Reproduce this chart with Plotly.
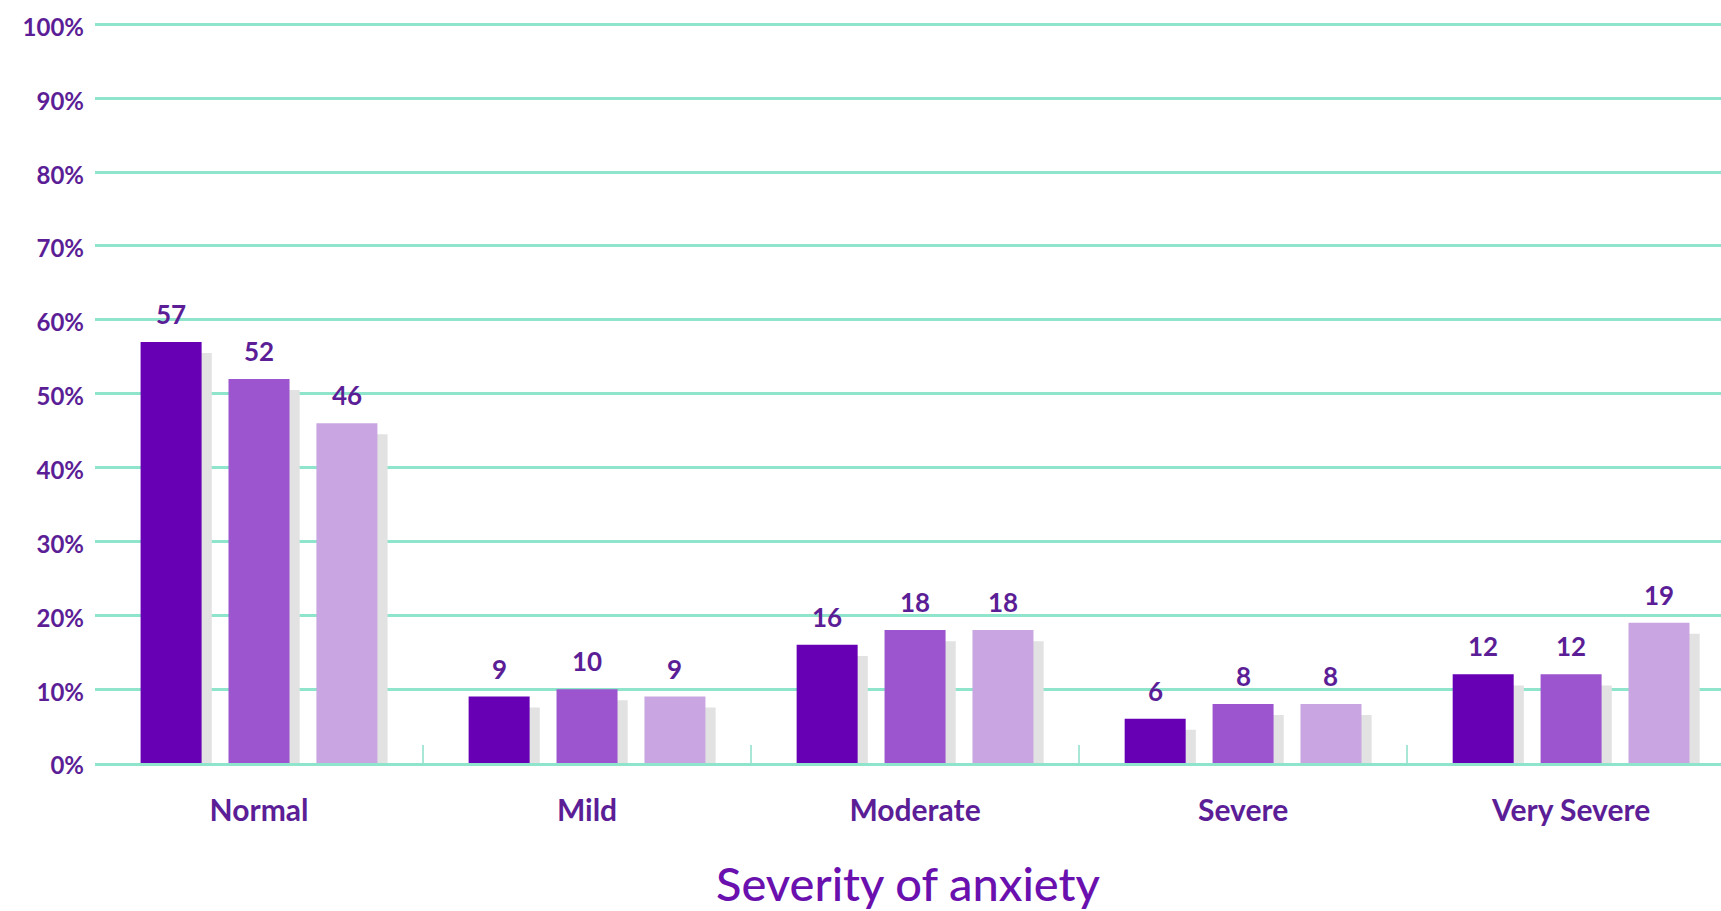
import plotly.graph_objects as go

categories = ["Normal", "Mild", "Moderate", "Severe", "Very Severe"]
series_names = ["Group 1", "Group 2", "Group 3"]
series_values = [
    [57, 9, 16, 6, 12],
    [52, 10, 18, 8, 12],
    [46, 9, 18, 8, 19],
]
y_tick_vals = [0, 10, 20, 30, 40, 50, 60, 70, 80, 90, 100]
y_tick_text = ["0%", "10%", "20%", "30%", "40%", "50%", "60%", "70%", "80%", "90%", "100%"]

colors = ["#6700b5", "#9c55cf", "#c9a6e1"]
shadow_color = "#e2e2e2"
text_color = "#5b1e96"
grid_color = "#8fe5cc"
font_family = "Lato, 'Open Sans', sans-serif"

bar_w = 0.186
centers = [-0.268, 0.0, 0.268]
shadow_dx = 0.031
shadow_drop = 1.5
cat_px = 328

fig = go.Figure()

# shadows
for i, vals in enumerate(series_values):
    fig.add_trace(go.Bar(
        x=categories, y=[v - shadow_drop for v in vals],
        width=bar_w, offset=centers[i] - bar_w / 2 + shadow_dx,
        marker=dict(color=shadow_color, line=dict(width=0)),
        showlegend=False, hoverinfo="skip",
    ))

# main bars
for i, vals in enumerate(series_values):
    fig.add_trace(go.Bar(
        x=categories, y=vals, name=series_names[i],
        width=bar_w, offset=centers[i] - bar_w / 2,
        marker=dict(color=colors[i], line=dict(width=0)),
        showlegend=False,
    ))
    for c, v in zip(categories, vals):
        fig.add_annotation(
            x=c, y=v, xref="x", yref="y", text=f"<b>{v}</b>",
            showarrow=False, yanchor="bottom", xanchor="center",
            xshift=centers[i] * cat_px, yshift=10,
            font=dict(family=font_family, size=26, color=text_color),
        )

fig.update_layout(
    width=1721, height=911,
    margin=dict(l=95, r=0, t=17, b=148),
    barmode="overlay",
    plot_bgcolor="white", paper_bgcolor="white",
    showlegend=False,
    font=dict(family=font_family, color=text_color),
)

fig.update_xaxes(
    range=[-0.5, 4.457],
    showgrid=False,
    showline=True, linecolor=grid_color, linewidth=3,
    ticks="inside", tickson="boundaries", ticklen=18, tickwidth=2, tickcolor="#a8e6d6",
    tickfont=dict(family=font_family, size=30, color=text_color, weight="bold"),
    ticklabelstandoff=19,
    title=dict(text="Severity of anxiety", standoff=45,
               font=dict(family=font_family, size=47, color="#6a10ae", weight=500)),
)

fig.update_yaxes(
    range=[0, 101],
    tickvals=y_tick_vals, ticktext=y_tick_text,
    showgrid=True, gridcolor=grid_color, gridwidth=3,
    zeroline=False, showline=False, ticks="",
    tickfont=dict(family=font_family, size=24, color=text_color, weight="bold"),
    ticklabelstandoff=10,
    ticklabelshift=3,
)

fig.write_html("out.html")
